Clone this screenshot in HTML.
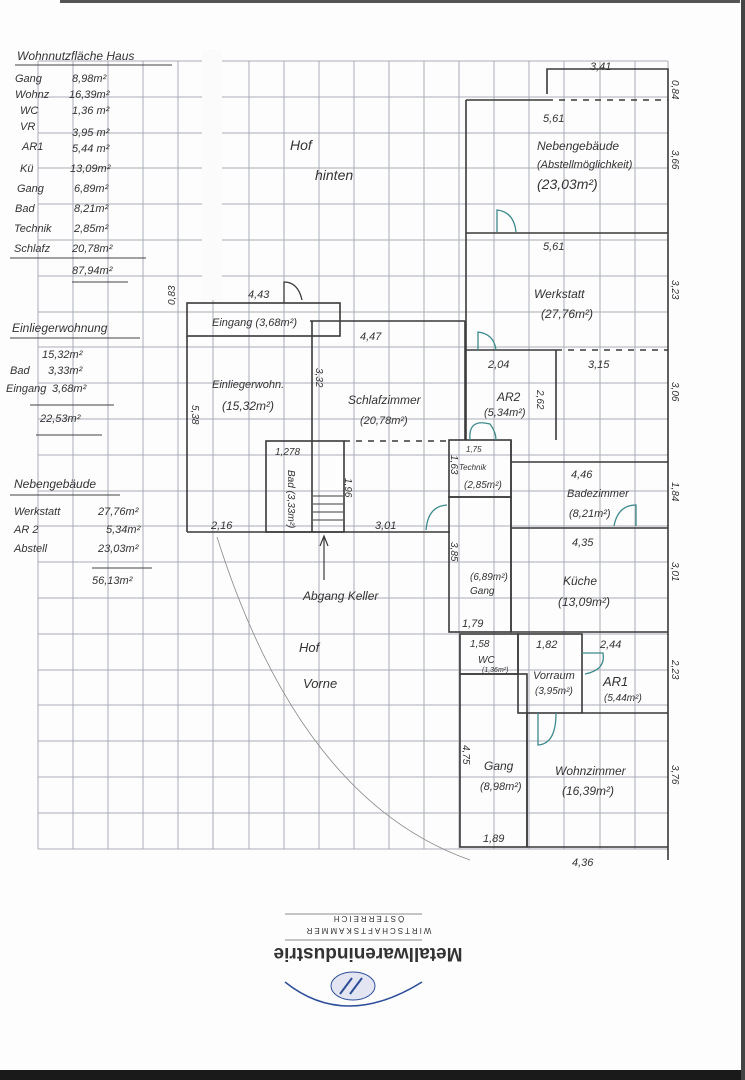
<!DOCTYPE html>
<html><head><meta charset="utf-8"><style>
html,body{margin:0;padding:0;background:#fff}
svg{display:block}
text{font-family:"Liberation Sans",sans-serif;fill:#333;font-style:italic}
</style></head><body>
<svg width="745" height="1080" viewBox="0 0 745 1080" xmlns="http://www.w3.org/2000/svg">
<rect width="745" height="1080" fill="#fdfdfd"/>
<rect x="60" y="0" width="680" height="3" fill="#555"/>
<g stroke="#a9adb8" stroke-width="1">
<line x1="38" y1="61" x2="38" y2="849"/><line x1="73" y1="61" x2="73" y2="849"/><line x1="108" y1="61" x2="108" y2="849"/><line x1="143" y1="61" x2="143" y2="849"/><line x1="178" y1="61" x2="178" y2="849"/><line x1="213" y1="61" x2="213" y2="849"/><line x1="249" y1="61" x2="249" y2="849"/><line x1="284" y1="61" x2="284" y2="849"/><line x1="319" y1="61" x2="319" y2="849"/><line x1="354" y1="61" x2="354" y2="849"/><line x1="389" y1="61" x2="389" y2="849"/><line x1="424" y1="61" x2="424" y2="849"/><line x1="459" y1="61" x2="459" y2="849"/><line x1="494" y1="61" x2="494" y2="849"/><line x1="529" y1="61" x2="529" y2="849"/><line x1="564" y1="61" x2="564" y2="849"/><line x1="600" y1="61" x2="600" y2="849"/><line x1="635" y1="61" x2="635" y2="849"/><line x1="668" y1="61" x2="668" y2="849"/>
<line x1="38" y1="61" x2="668" y2="61"/><line x1="38" y1="97" x2="668" y2="97"/><line x1="38" y1="133" x2="668" y2="133"/><line x1="38" y1="168" x2="668" y2="168"/><line x1="38" y1="204" x2="668" y2="204"/><line x1="38" y1="240" x2="668" y2="240"/><line x1="38" y1="276" x2="668" y2="276"/><line x1="38" y1="312" x2="668" y2="312"/><line x1="38" y1="347" x2="668" y2="347"/><line x1="38" y1="383" x2="668" y2="383"/><line x1="38" y1="419" x2="668" y2="419"/><line x1="38" y1="455" x2="668" y2="455"/><line x1="38" y1="491" x2="668" y2="491"/><line x1="38" y1="526" x2="668" y2="526"/><line x1="38" y1="562" x2="668" y2="562"/><line x1="38" y1="598" x2="668" y2="598"/><line x1="38" y1="634" x2="668" y2="634"/><line x1="38" y1="670" x2="668" y2="670"/><line x1="38" y1="705" x2="668" y2="705"/><line x1="38" y1="741" x2="668" y2="741"/><line x1="38" y1="777" x2="668" y2="777"/><line x1="38" y1="813" x2="668" y2="813"/><line x1="38" y1="849" x2="668" y2="849"/>
</g>
<rect x="202" y="50" width="20" height="250" fill="#fbfbfb"/>
<rect x="0" y="60" width="37" height="800" fill="#fdfdfd"/>
<g stroke="#3a3a3a" stroke-width="1.6" fill="none">
<polyline points="547,94 547,69 668,69 668,860"/>
<line x1="466" y1="100" x2="547" y2="100"/>
<line x1="547" y1="100" x2="668" y2="100" stroke-dasharray="6,6"/>
<line x1="466" y1="100" x2="466" y2="440"/>
<line x1="466" y1="233" x2="668" y2="233"/>
<line x1="466" y1="350" x2="556" y2="350"/>
<line x1="556" y1="350" x2="668" y2="350" stroke-dasharray="6,6"/>
<line x1="556" y1="350" x2="556" y2="440"/>
<rect x="449" y="440" width="62" height="57"/>
<line x1="511" y1="462" x2="668" y2="462"/>
<line x1="511" y1="440" x2="511" y2="632"/>
<line x1="511" y1="528" x2="668" y2="528"/>
<rect x="449" y="497" width="62" height="135"/>
<line x1="511" y1="632" x2="668" y2="632"/>
<rect x="460" y="634" width="58" height="40"/>
<rect x="518" y="634" width="64" height="79"/>
<line x1="582" y1="713" x2="668" y2="713"/>
<rect x="460" y="674" width="67" height="173"/>
<line x1="527" y1="713" x2="527" y2="847"/>
<line x1="527" y1="847" x2="668" y2="847"/>
<rect x="187" y="303" width="153" height="33"/>
<line x1="310" y1="321" x2="465" y2="321"/>
<line x1="465" y1="321" x2="465" y2="440"/>
<line x1="312" y1="321" x2="312" y2="441"/>
<line x1="187" y1="336" x2="187" y2="532"/>
<rect x="266" y="441" width="78" height="91"/>
<line x1="312" y1="441" x2="312" y2="532"/>
<line x1="344" y1="441" x2="450" y2="441" stroke-dasharray="6,6"/>
<line x1="187" y1="532" x2="450" y2="532"/>
<line x1="313" y1="496" x2="343" y2="496" stroke-width="1"/><line x1="313" y1="504" x2="343" y2="504" stroke-width="1"/><line x1="313" y1="512" x2="343" y2="512" stroke-width="1"/><line x1="313" y1="520" x2="343" y2="520" stroke-width="1"/>
<line x1="324" y1="580" x2="324" y2="537" stroke-width="1.2"/><polyline points="320,546 324,536 328,546" stroke-width="1.2"/>
<path d="M284,303 L284,282 Q298,282 302,300" stroke-width="1.3"/>
</g>
<g stroke="#3d8a8c" stroke-width="1.3" fill="none">
<path d="M497,232 L497,210 Q514,212 516,232"/>
<path d="M478,350 L478,332 Q494,334 496,350"/>
<path d="M470,440 Q468,418 490,424 Q496,432 496,440"/>
<path d="M636,526 L636,505 Q618,505 614,526"/>
<path d="M426,530 Q428,506 447,505"/>
<path d="M582,653 L603,653 Q606,670 585,674"/>
<path d="M538,713 L538,745 Q556,744 556,713"/>
</g>
<path d="M217,537 Q300,800 470,860" stroke="#888" stroke-width="0.8" fill="none"/>
<g font-size="11">
<text x="17" y="60" font-size="12">Wohnnutzfläche Haus</text>
<line x1="15" y1="65" x2="172" y2="65" stroke="#444"/>
<text x="15" y="82">Gang</text><text x="72" y="82">8,98m²</text>
<text x="15" y="98">Wohnz</text><text x="69" y="98">16,39m²</text>
<text x="20" y="114">WC</text><text x="72" y="114">1,36 m²</text>
<text x="20" y="130">VR</text><text x="72" y="136">3,95 m²</text>
<text x="22" y="150">AR1</text><text x="72" y="152">5,44 m²</text>
<text x="20" y="172">Kü</text><text x="70" y="172">13,09m²</text>
<text x="17" y="192">Gang</text><text x="74" y="192">6,89m²</text>
<text x="15" y="212">Bad</text><text x="74" y="212">8,21m²</text>
<text x="14" y="232">Technik</text><text x="74" y="232">2,85m²</text>
<text x="14" y="252">Schlafz</text><text x="72" y="252">20,78m²</text>
<line x1="10" y1="258" x2="146" y2="258" stroke="#444"/>
<text x="72" y="274">87,94m²</text>
<line x1="72" y1="282" x2="128" y2="282" stroke="#444"/>
<text x="12" y="332" font-size="12">Einliegerwohnung</text>
<line x1="10" y1="338" x2="140" y2="338" stroke="#444"/>
<text x="42" y="358">15,32m²</text>
<text x="10" y="374">Bad</text><text x="48" y="374">3,33m²</text>
<text x="6" y="392">Eingang</text><text x="52" y="392">3,68m²</text>
<line x1="30" y1="405" x2="114" y2="405" stroke="#444"/>
<text x="40" y="422">22,53m²</text>
<line x1="36" y1="435" x2="102" y2="435" stroke="#444"/>
<text x="14" y="488" font-size="12">Nebengebäude</text>
<line x1="10" y1="495" x2="120" y2="495" stroke="#444"/>
<text x="14" y="515">Werkstatt</text><text x="98" y="515">27,76m²</text>
<text x="14" y="533">AR 2</text><text x="106" y="533">5,34m²</text>
<text x="14" y="552">Abstell</text><text x="98" y="552">23,03m²</text>
<line x1="92" y1="568" x2="152" y2="568" stroke="#444"/>
<text x="92" y="584">56,13m²</text>
</g>
<g font-size="12">
<text x="290" y="150" font-size="14">Hof</text><text x="315" y="180" font-size="14">hinten</text>
<text x="537" y="150">Nebengebäude</text><text x="537" y="168" font-size="11">(Abstellmöglichkeit)</text><text x="537" y="189" font-size="14">(23,03m²)</text>
<text x="543" y="122" font-size="11">5,61</text><text x="590" y="70" font-size="11">3,41</text>
<text x="543" y="250" font-size="11">5,61</text>
<text x="534" y="298">Werkstatt</text><text x="541" y="318">(27,76m²)</text>
<text x="488" y="368" font-size="11">2,04</text><text x="588" y="368" font-size="11">3,15</text>
<text x="497" y="401">AR2</text><text x="484" y="416" font-size="11">(5,34m²)</text>
<text x="466" y="452" font-size="8">1,75</text><text x="459" y="470" font-size="8">Technik</text><text x="464" y="488" font-size="10">(2,85m²)</text>
<text x="571" y="478" font-size="11">4,46</text><text x="567" y="497" font-size="11">Badezimmer</text><text x="569" y="517" font-size="11">(8,21m²)</text>
<text x="572" y="546" font-size="11">4,35</text>
<text x="563" y="585">Küche</text><text x="558" y="606">(13,09m²)</text>
<text x="470" y="580" font-size="10">(6,89m²)</text><text x="470" y="594" font-size="10">Gang</text>
<text x="462" y="627" font-size="11">1,79</text>
<text x="470" y="647" font-size="10">1,58</text><text x="478" y="663" font-size="10">WC</text><text x="482" y="672" font-size="7">(1,36m²)</text>
<text x="536" y="648" font-size="11">1,82</text><text x="600" y="648" font-size="11">2,44</text>
<text x="533" y="679" font-size="11">Vorraum</text><text x="535" y="694" font-size="10">(3,95m²)</text>
<text x="603" y="686" font-size="13">AR1</text><text x="604" y="701" font-size="10">(5,44m²)</text>
<text x="484" y="770">Gang</text><text x="480" y="790" font-size="11">(8,98m²)</text>
<text x="483" y="842" font-size="11">1,89</text>
<text x="555" y="775">Wohnzimmer</text><text x="562" y="795">(16,39m²)</text>
<text x="572" y="866" font-size="11">4,36</text>
<text x="212" y="326" font-size="11">Eingang (3,68m²)</text>
<text x="248" y="298" font-size="11">4,43</text>
<text x="360" y="340" font-size="11">4,47</text>
<text x="212" y="388" font-size="11">Einliegerwohn.</text><text x="222" y="410" font-size="12">(15,32m²)</text>
<text x="348" y="404">Schlafzimmer</text><text x="360" y="424" font-size="11">(20,78m²)</text>
<text x="275" y="455" font-size="10">1,278</text>
<text x="211" y="529" font-size="11">2,16</text><text x="375" y="529" font-size="11">3,01</text>
<text x="303" y="600">Abgang Keller</text>
<text x="299" y="652" font-size="13">Hof</text><text x="303" y="688" font-size="13">Vorne</text>
</g>
<g font-size="10">
<text transform="translate(672,80) rotate(90)">0,84</text>
<text transform="translate(672,150) rotate(90)">3,66</text>
<text transform="translate(672,280) rotate(90)">3,23</text>
<text transform="translate(672,382) rotate(90)">3,06</text>
<text transform="translate(672,482) rotate(90)">1,84</text>
<text transform="translate(672,562) rotate(90)">3,01</text>
<text transform="translate(672,660) rotate(90)">2,23</text>
<text transform="translate(672,765) rotate(90)">3,76</text>
<text transform="translate(175,305) rotate(-90)">0,83</text>
<text transform="translate(192,405) rotate(90)">5,38</text>
<text transform="translate(316,368) rotate(90)">3,32</text>
<text transform="translate(345,478) rotate(90)">1,96</text>
<text transform="translate(288,470) rotate(90)">Bad (3,33m²)</text>
<text transform="translate(537,390) rotate(90)">2,62</text>
<text transform="translate(451,455) rotate(90)">1,63</text>
<text transform="translate(451,542) rotate(90)">3,85</text>
<text transform="translate(463,745) rotate(90)">4,75</text>
</g>
<!-- logo: layout as seen, text upside down -->
<line x1="285" y1="914" x2="422" y2="914" stroke="#666" stroke-width="0.8"/>
<text transform="rotate(180 368 920)" x="368" y="924" text-anchor="middle" font-size="8" style="font-style:normal;letter-spacing:2px" fill="#555">ÖSTERREICH</text>
<text transform="rotate(180 368 932)" x="368" y="936" text-anchor="middle" font-size="8" style="font-style:normal;letter-spacing:2px" fill="#555">WIRTSCHAFTSKAMMER</text>
<line x1="285" y1="940" x2="422" y2="940" stroke="#666" stroke-width="0.8"/>
<text transform="rotate(180 368 955)" x="368" y="962" text-anchor="middle" font-size="19" font-weight="bold" style="font-style:normal" fill="#2f4f9a">Metallwarenindustrie</text>
<ellipse cx="353" cy="986" rx="22" ry="14" fill="#e3e6f2" stroke="#2f4f9a"/>
<line x1="340" y1="994" x2="352" y2="978" stroke="#2f4f9a" stroke-width="2"/><line x1="350" y1="994" x2="362" y2="978" stroke="#2f4f9a" stroke-width="2"/>
<path d="M285,982 Q345,1030 422,982" stroke="#2f4f9a" stroke-width="1.5" fill="none"/>
<rect x="0" y="1070" width="745" height="10" fill="#1a1a1a"/>
<rect x="741" y="0" width="4" height="1080" fill="#444"/>
</svg>
</body></html>
